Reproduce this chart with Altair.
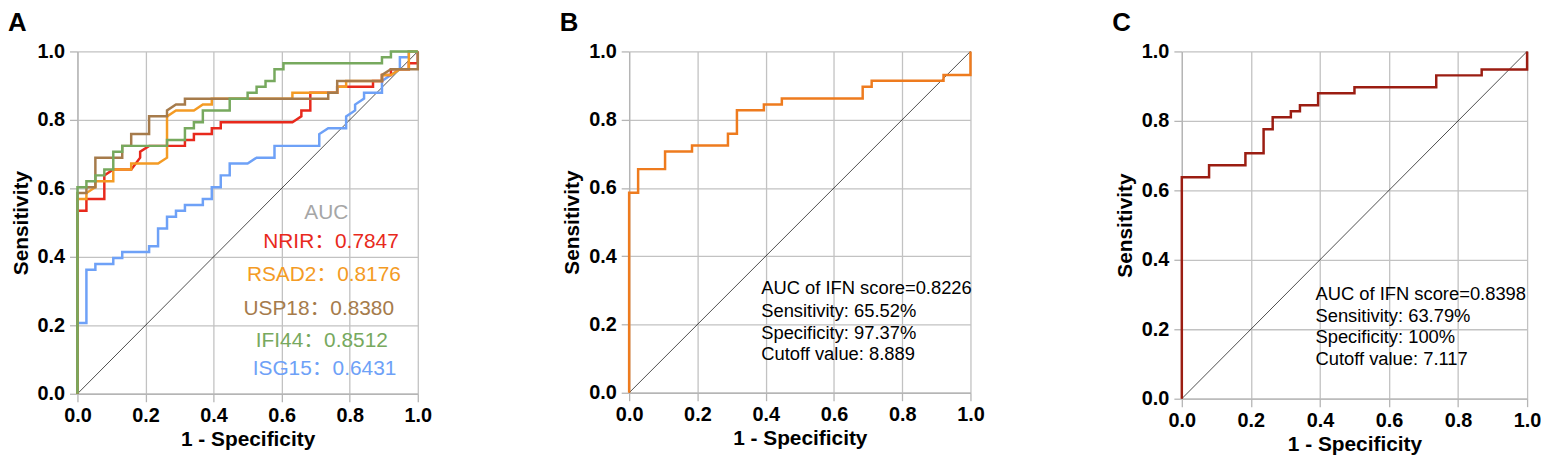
import altair as alt
import pandas as pd

# ---------------- data ----------------
N_NEG = 38   # controls  -> false-positive steps of 1/38
N_POS = 58   # cases     -> true-positive steps of 1/58

# Panel A: vertices of each ROC curve (false positives, true positives)
nrir_fp = [0,0,1,1,3,3,4,6,7,7,8,12,12,13,13,15,15,16,16,24,25,25,26,26,29,29,33,33,34,34,35,35,37,37,38,38]
nrir_tp = [0,31,31,33,33,37,38,38,40,41,42,42,43,43,44,44,45,45,46,46,47,48,48,51,51,52,52,53,53,54,54,55,55,56,56,58]

rsad2_fp = [0,0,1,1,2,2,4,4,6,6,9,10,10,11,13,14,15,15,24,24,29,29,30,30,34,34,35,36,37,37,38]
rsad2_tp = [0,33,33,34,35,36,36,38,38,39,39,40,47,48,48,49,49,50,50,51,51,52,52,53,53,54,54,55,55,58,58]

usp18_fp = [0,0,1,1,2,2,5,5,6,6,8,8,10,10,11,12,12,28,28,29,29,34,34,35,38,38]
usp18_tp = [0,34,34,35,35,40,40,42,42,44,44,47,47,48,49,49,50,50,51,51,53,53,54,55,55,58]

ifi44_fp = [0,0,1,1,2,2,3,3,4,4,5,5,10,10,12,12,13,13,14,14,17,17,19,19,20,20,21,21,22,22,23,23,34,34,35,35,38]
ifi44_tp = [0,35,35,36,36,37,37,38,38,41,41,42,42,43,43,45,45,46,46,48,48,50,50,51,51,52,52,53,53,55,55,56,56,57,57,58,58]

isg15_fp = [0,0,1,1,2,2,4,4,5,5,8,8,9,9,10,10,11,11,12,12,14,14,15,15,16,16,17,17,19,20,22,22,27,27,28,30,30,31,31,32,32,34,34,35,36,36,37,37,38]
isg15_tp = [0,12,12,21,21,22,22,23,23,24,24,25,25,28,28,30,30,31,31,32,32,33,33,35,35,37,37,39,39,40,40,42,42,44,45,45,47,48,49,50,51,51,53,54,55,57,57,58,58]

# Panel B: IFN score ROC
ifnB_fp = [0,0,1,1,4,4,7,7,11,11,12,12,15,15,17,17,26,26,27,27,35,35,38,38]
ifnB_tp = [0,34,34,38,38,41,41,42,42,44,44,48,48,49,49,50,50,52,52,53,53,54,54,58]

# Panel C: IFN score ROC
ifnC_fp = [0,0,3,3,7,7,9,9,10,10,12,12,13,13,15,15,19,19,28,28,33,33,38,38]
ifnC_tp = [0,37,37,39,39,41,41,45,45,47,47,48,48,49,49,51,51,52,52,54,54,55,55,58]

# chance diagonal
diag_fpr = [0.0, 1.0]
diag_tpr = [0.0, 1.0]

genes = ["NRIR", "RSAD2", "USP18", "IFI44", "ISG15"]
gene_auc = ["0.7847", "0.8176", "0.8380", "0.8512", "0.6431"]

b_lines = ["AUC of IFN score=0.8226", "Sensitivity: 65.52%", "Specificity: 97.37%", "Cutoff value: 8.889"]
c_lines = ["AUC of IFN score=0.8398", "Sensitivity: 63.79%", "Specificity: 100%", "Cutoff value: 7.117"]

tick_vals = [0.0, 0.2, 0.4, 0.6, 0.8, 1.0]

# ---------------- styling ----------------
FONT = "Liberation Sans"
LFONT = "Liberation Sans, Noto Sans CJK SC"
COL = {"NRIR": "#E8291C", "RSAD2": "#F49B24", "USP18": "#A67B4B",
       "IFI44": "#77A95E", "ISG15": "#6EA1F7"}
COL_B = "#EE7B1E"
COL_C = "#9B1D12"

xs = alt.Scale(domain=[0, 1], nice=False, zero=False)
ys = alt.Scale(domain=[0, 1], nice=False, zero=False)
xaxis = alt.Axis(values=tick_vals, format=".1f", title="1 - Specificity",
                 labelFlush=False, titlePadding=3, labelPadding=4)
yaxis = alt.Axis(values=tick_vals, format=".1f", title="Sensitivity",
                 titlePadding=6, labelPadding=5)

one = pd.DataFrame({"k": [0]})


def curve(fp, tp, color, width=2.5):
    df = pd.DataFrame({"fpr": [v / N_NEG for v in fp],
                       "tpr": [v / N_POS for v in tp],
                       "i": list(range(len(fp)))})
    return alt.Chart(df).mark_line(color=color, strokeWidth=width,
                                   strokeJoin="miter").encode(
        x=alt.X("fpr:Q", scale=xs, axis=xaxis),
        y=alt.Y("tpr:Q", scale=ys, axis=yaxis),
        order="i:Q")


def diagonal():
    df = pd.DataFrame({"fpr": diag_fpr, "tpr": diag_tpr})
    return alt.Chart(df).mark_line(color="black", strokeWidth=0.7).encode(
        x=alt.X("fpr:Q", scale=xs, axis=xaxis),
        y=alt.Y("tpr:Q", scale=ys, axis=yaxis))


def note(text, x, y, color="black", size=18.5, align="left", font=FONT):
    return alt.Chart(one).mark_text(text=text, align=align, baseline="middle",
                                    fontSize=size, font=font, color=color).encode(
        x=alt.datum(x), y=alt.datum(y))


def letter(t):
    return alt.Chart(one).mark_text(text=t, align="left", baseline="top",
                                    fontSize=26, fontWeight="bold", font=FONT,
                                    color="black").encode(
        x=alt.value(-70), y=alt.value(-42))


# ---------------- panel A ----------------
a_layers = [diagonal(),
            curve(isg15_fp, isg15_tp, COL["ISG15"]),
            curve(nrir_fp, nrir_tp, COL["NRIR"]),
            curve(rsad2_fp, rsad2_tp, COL["RSAD2"]),
            curve(usp18_fp, usp18_tp, COL["USP18"]),
            curve(ifi44_fp, ifi44_tp, COL["IFI44"])]
a_pos = [(0.745, 0.442), (0.724, 0.348), (0.709, 0.246), (0.718, 0.155), (0.726, 0.072)]
a_layers.append(note("AUC", 0.731, 0.529, color="#A6A6A6", size=21, align="center"))
for g, auc, (px, py) in zip(genes, gene_auc, a_pos):
    a_layers.append(note(f"{g}：{auc}", px, py, color=COL[g], size=21,
                         align="center", font=LFONT))
a_layers.append(letter("A"))
panelA = alt.layer(*a_layers).properties(width=343, height=345)

# ---------------- panel B ----------------
b_layers = [diagonal(), curve(ifnB_fp, ifnB_tp, COL_B)]
for t, py in zip(b_lines, [0.308, 0.238, 0.176, 0.114]):
    b_layers.append(note(t, 0.387, py))
b_layers.append(letter("B"))
panelB = alt.layer(*b_layers).properties(width=344, height=344)

# ---------------- panel C ----------------
c_layers = [diagonal(), curve(ifnC_fp, ifnC_tp, COL_C)]
for t, py in zip(c_lines, [0.300, 0.237, 0.178, 0.115]):
    c_layers.append(note(t, 0.387, py))
c_layers.append(letter("C"))
panelC = alt.layer(*c_layers).properties(width=348, height=350)

chart = alt.hconcat(panelA, panelB, panelC, spacing=213, bounds="flush").properties(
    padding={"left": 0, "top": 0, "right": 0, "bottom": 5}
).configure_view(stroke=None).configure_axis(
    grid=True, gridColor="#c2c2c2", gridWidth=1.3,
    domainColor="#b5b5b5", domainWidth=1.3,
    tickColor="#b5b5b5", tickSize=8, tickWidth=1.3,
    labelFont=FONT, labelFontSize=20, labelFontWeight="bold", labelColor="black",
    titleFont=FONT, titleFontSize=21, titleFontWeight="bold", titleColor="black",
)

chart.save("out.html", embed_options={"renderer": "svg", "actions": False})
